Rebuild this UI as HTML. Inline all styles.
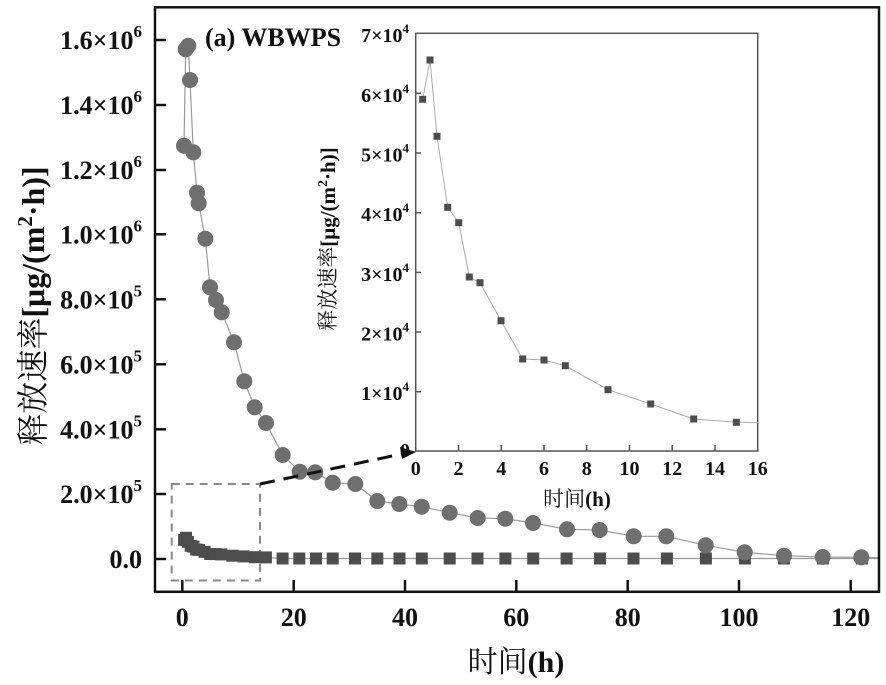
<!DOCTYPE html>
<html>
<head>
<meta charset="utf-8">
<style>
html,body{margin:0;padding:0;background:#fff;}
svg{display:block;}
text{font-family:"Liberation Serif","Noto Serif CJK SC",serif;}
.b{font-weight:bold;}
</style>
</head>
<body>
<svg width="886" height="685" viewBox="0 0 886 685" xmlns="http://www.w3.org/2000/svg">
<rect width="886" height="685" fill="#fff"/>

<!-- dashed zoom box -->
<rect x="171.7" y="484" width="88.3" height="96.5" fill="none" stroke="#8a8a8a" stroke-width="2" stroke-dasharray="8 6"/>

<!-- square series line -->
<polyline fill="none" stroke="#9a9a9a" stroke-width="1.2" points="184.1,539.9 186,537.8 187.9,541.9 190.7,545.8 193.4,546.6 196.2,549.6 199,549.9 204.6,551.9 210.2,554 215.7,554.1 221.3,554.4 232.4,555.7 243.6,556.4 254.7,557.2 265.9,557.4 282.6,558.5 879,558.5"/>
<g fill="#4d4d4d">
<rect x="178.1" y="533.9" width="12" height="12"/>
<rect x="180" y="531.8" width="12" height="12"/>
<rect x="181.9" y="535.9" width="12" height="12"/>
<rect x="184.7" y="539.8" width="12" height="12"/>
<rect x="187.4" y="540.6" width="12" height="12"/>
<rect x="190.2" y="543.6" width="12" height="12"/>
<rect x="193" y="543.9" width="12" height="12"/>
<rect x="198.6" y="545.9" width="12" height="12"/>
<rect x="204.2" y="548" width="12" height="12"/>
<rect x="209.7" y="548.1" width="12" height="12"/>
<rect x="215.3" y="548.4" width="12" height="12"/>
<rect x="226.4" y="549.7" width="12" height="12"/>
<rect x="237.6" y="550.4" width="12" height="12"/>
<rect x="248.7" y="551.2" width="12" height="12"/>
<rect x="259.9" y="551.4" width="12" height="12"/>
<rect x="276.6" y="552.5" width="12" height="12"/>
<rect x="293.3" y="552.5" width="12" height="12"/>
<rect x="310" y="552.5" width="12" height="12"/>
<rect x="326.7" y="552.5" width="12" height="12"/>
<rect x="349" y="552.5" width="12" height="12"/>
<rect x="371.3" y="552.5" width="12" height="12"/>
<rect x="393.5" y="552.5" width="12" height="12"/>
<rect x="415.8" y="552.5" width="12" height="12"/>
<rect x="443.7" y="552.5" width="12" height="12"/>
<rect x="471.5" y="552.5" width="12" height="12"/>
<rect x="499.4" y="552.5" width="12" height="12"/>
<rect x="527.2" y="552.5" width="12" height="12"/>
<rect x="560.6" y="552.5" width="12" height="12"/>
<rect x="594" y="552.5" width="12" height="12"/>
<rect x="627.5" y="552.5" width="12" height="12"/>
<rect x="660.9" y="552.5" width="12" height="12"/>
<rect x="699.9" y="552.5" width="12" height="12"/>
<rect x="738.9" y="552.5" width="12" height="12"/>
<rect x="777.9" y="552.5" width="12" height="12"/>
<rect x="816.9" y="552.5" width="12" height="12"/>
<rect x="855.9" y="552.5" width="12" height="12"/>
</g>

<!-- circle series line -->
<polyline fill="none" stroke="#9a9a9a" stroke-width="1.2" points="184,145.7 185.7,49.3 188.3,45.7 190,80 193.3,152.3 197,192.7 198.7,203.3 205.3,238.7 210,287.3 216,300 221.7,312.3 234,342.3 244.3,381.3 254.7,407.3 266,423 282.7,455 299.7,471.7 315.3,472.3 332.7,482.7 355.3,484 377.3,501 399.3,504 421.7,506.7 449.7,512.7 477.7,518 505.3,518.7 533,523 567,529.3 599.7,530 633.7,536.3 666.3,536.3 705.7,545.3 744.7,552.3 784,555.7 822.7,557 861.3,557.3 879,557.6"/>
<g fill="#6f6f6f">
<circle cx="184" cy="145.7" r="8"/>
<circle cx="185.7" cy="49.3" r="8"/>
<circle cx="188.3" cy="45.7" r="8"/>
<circle cx="190" cy="80" r="8"/>
<circle cx="193.3" cy="152.3" r="8"/>
<circle cx="197" cy="192.7" r="8"/>
<circle cx="198.7" cy="203.3" r="8"/>
<circle cx="205.3" cy="238.7" r="8"/>
<circle cx="210" cy="287.3" r="8"/>
<circle cx="216" cy="300" r="8"/>
<circle cx="221.7" cy="312.3" r="8"/>
<circle cx="234" cy="342.3" r="8"/>
<circle cx="244.3" cy="381.3" r="8"/>
<circle cx="254.7" cy="407.3" r="8"/>
<circle cx="266" cy="423" r="8"/>
<circle cx="282.7" cy="455" r="8"/>
<circle cx="299.7" cy="471.7" r="8"/>
<circle cx="315.3" cy="472.3" r="8"/>
<circle cx="332.7" cy="482.7" r="8"/>
<circle cx="355.3" cy="484" r="8"/>
<circle cx="377.3" cy="501" r="8"/>
<circle cx="399.3" cy="504" r="8"/>
<circle cx="421.7" cy="506.7" r="8"/>
<circle cx="449.7" cy="512.7" r="8"/>
<circle cx="477.7" cy="518" r="8"/>
<circle cx="505.3" cy="518.7" r="8"/>
<circle cx="533" cy="523" r="8"/>
<circle cx="567" cy="529.3" r="8"/>
<circle cx="599.7" cy="530" r="8"/>
<circle cx="633.7" cy="536.3" r="8"/>
<circle cx="666.3" cy="536.3" r="8"/>
<circle cx="705.7" cy="545.3" r="8"/>
<circle cx="744.7" cy="552.3" r="8"/>
<circle cx="784" cy="555.7" r="8"/>
<circle cx="822.7" cy="557" r="8"/>
<circle cx="861.3" cy="557.3" r="8"/>
</g>

<!-- black dashed connector -->
<line x1="260" y1="484" x2="404" y2="453.5" stroke="#111" stroke-width="3" stroke-dasharray="15 9"/>

<!-- inset -->
<rect x="415.7" y="33.3" width="342" height="417.7" fill="#fff" stroke="#555" stroke-width="1.5"/>
<g stroke="#555" stroke-width="1.5">
<line x1="415.7" y1="93.3" x2="421" y2="93.3"/>
<line x1="415.7" y1="153" x2="421" y2="153"/>
<line x1="415.7" y1="212.7" x2="421" y2="212.7"/>
<line x1="415.7" y1="272.4" x2="421" y2="272.4"/>
<line x1="415.7" y1="332" x2="421" y2="332"/>
<line x1="415.7" y1="391.7" x2="421" y2="391.7"/>
<line x1="458.5" y1="451" x2="458.5" y2="445"/>
<line x1="501.2" y1="451" x2="501.2" y2="445"/>
<line x1="544" y1="451" x2="544" y2="445"/>
<line x1="586.7" y1="451" x2="586.7" y2="445"/>
<line x1="629.5" y1="451" x2="629.5" y2="445"/>
<line x1="672.2" y1="451" x2="672.2" y2="445"/>
<line x1="715" y1="451" x2="715" y2="445"/>
</g>
<polyline fill="none" stroke="#aaa" stroke-width="1" points="422.7,99.3 430,60 437,136.3 447.7,207.3 458.7,222.7 469.3,277 480,282.7 501,320.7 522.7,359 544,360 565.3,365.7 608,389.7 650.7,404 693.7,419 736.3,422.3 757.7,422.7"/>
<g fill="#4d4d4d">
<rect x="419.2" y="95.8" width="7" height="7"/>
<rect x="426.5" y="56.5" width="7" height="7"/>
<rect x="433.5" y="132.8" width="7" height="7"/>
<rect x="444.2" y="203.8" width="7" height="7"/>
<rect x="455.2" y="219.2" width="7" height="7"/>
<rect x="465.8" y="273.5" width="7" height="7"/>
<rect x="476.5" y="279.2" width="7" height="7"/>
<rect x="497.5" y="317.2" width="7" height="7"/>
<rect x="519.2" y="355.5" width="7" height="7"/>
<rect x="540.5" y="356.5" width="7" height="7"/>
<rect x="561.8" y="362.2" width="7" height="7"/>
<rect x="604.5" y="386.2" width="7" height="7"/>
<rect x="647.2" y="400.5" width="7" height="7"/>
<rect x="690.2" y="415.5" width="7" height="7"/>
<rect x="732.8" y="418.8" width="7" height="7"/>
</g>
<!-- inset y tick labels -->
<g class="b" font-size="20" text-anchor="end" fill="#111">
<text x="409" y="42">7×10<tspan dy="-9" font-size="13">4</tspan></text>
<text x="409" y="102">6×10<tspan dy="-9" font-size="13">4</tspan></text>
<text x="409" y="161.5">5×10<tspan dy="-9" font-size="13">4</tspan></text>
<text x="409" y="221">4×10<tspan dy="-9" font-size="13">4</tspan></text>
<text x="409" y="281">3×10<tspan dy="-9" font-size="13">4</tspan></text>
<text x="409" y="340.5">2×10<tspan dy="-9" font-size="13">4</tspan></text>
<text x="409" y="400">1×10<tspan dy="-9" font-size="13">4</tspan></text>
<text x="410" y="457">0</text>
</g>
<!-- arrow head -->
<polygon points="400,447 402,459 416,452" fill="#111"/>
<!-- inset x tick labels -->
<g class="b" font-size="20" text-anchor="middle" fill="#111">
<text x="415.7" y="475">0</text>
<text x="458.5" y="475">2</text>
<text x="501.2" y="475">4</text>
<text x="544" y="475">6</text>
<text x="586.7" y="475">8</text>
<text x="629.5" y="475">10</text>
<text x="672.2" y="475">12</text>
<text x="715" y="475">14</text>
<text x="757.7" y="475">16</text>
</g>
<text x="577" y="506" font-size="21" text-anchor="middle" fill="#111">时间<tspan class="b">(h)</tspan></text>
<text transform="translate(335,239) rotate(-90)" font-size="21" text-anchor="middle" fill="#111">释放速率<tspan class="b">[μg/(m<tspan dy="-8" font-size="14">2</tspan><tspan dy="8">·h)]</tspan></tspan></text>

<!-- main frame -->
<rect x="155" y="7.3" width="724" height="584.5" fill="none" stroke="#111" stroke-width="2.5"/>
<g stroke="#111" stroke-width="2.5">
<line x1="155" y1="40" x2="166" y2="40"/>
<line x1="155" y1="105" x2="166" y2="105"/>
<line x1="155" y1="170" x2="166" y2="170"/>
<line x1="155" y1="234.3" x2="166" y2="234.3"/>
<line x1="155" y1="299.3" x2="166" y2="299.3"/>
<line x1="155" y1="364.3" x2="166" y2="364.3"/>
<line x1="155" y1="429.3" x2="166" y2="429.3"/>
<line x1="155" y1="494" x2="166" y2="494"/>
<line x1="155" y1="559" x2="166" y2="559"/>
<line x1="182.3" y1="591.8" x2="182.3" y2="580"/>
<line x1="293.7" y1="591.8" x2="293.7" y2="580"/>
<line x1="405" y1="591.8" x2="405" y2="580"/>
<line x1="516.3" y1="591.8" x2="516.3" y2="580"/>
<line x1="627.7" y1="591.8" x2="627.7" y2="580"/>
<line x1="739" y1="591.8" x2="739" y2="580"/>
<line x1="850.7" y1="591.8" x2="850.7" y2="580"/>
</g>

<!-- main y tick labels -->
<g class="b" font-size="26" text-anchor="end" fill="#111">
<text x="142" y="49">1.6×10<tspan dy="-12" font-size="17">6</tspan></text>
<text x="142" y="114">1.4×10<tspan dy="-12" font-size="17">6</tspan></text>
<text x="142" y="179">1.2×10<tspan dy="-12" font-size="17">6</tspan></text>
<text x="142" y="243.3">1.0×10<tspan dy="-12" font-size="17">6</tspan></text>
<text x="142" y="308.3">8.0×10<tspan dy="-12" font-size="17">5</tspan></text>
<text x="142" y="373.3">6.0×10<tspan dy="-12" font-size="17">5</tspan></text>
<text x="142" y="438.3">4.0×10<tspan dy="-12" font-size="17">5</tspan></text>
<text x="142" y="503">2.0×10<tspan dy="-12" font-size="17">5</tspan></text>
<text x="142" y="568">0.0</text>
</g>
<!-- main x tick labels -->
<g class="b" font-size="26" text-anchor="middle" fill="#111">
<text x="182.3" y="626">0</text>
<text x="293.7" y="626">20</text>
<text x="405" y="626">40</text>
<text x="516.3" y="626">60</text>
<text x="627.7" y="626">80</text>
<text x="739" y="626">100</text>
<text x="850.7" y="626">120</text>
</g>

<!-- title -->
<text x="205" y="46" class="b" font-size="26" fill="#111">(a) WBWPS</text>

<!-- axis titles -->
<text x="516" y="672" font-size="30" text-anchor="middle" fill="#111">时间<tspan class="b">(h)</tspan></text>
<text transform="translate(44,306) rotate(-90)" font-size="32" text-anchor="middle" fill="#111">释放速率<tspan class="b">[μg/(m<tspan dy="-12" font-size="21">2</tspan><tspan dy="12">·h)]</tspan></tspan></text>
</svg>
</body>
</html>
